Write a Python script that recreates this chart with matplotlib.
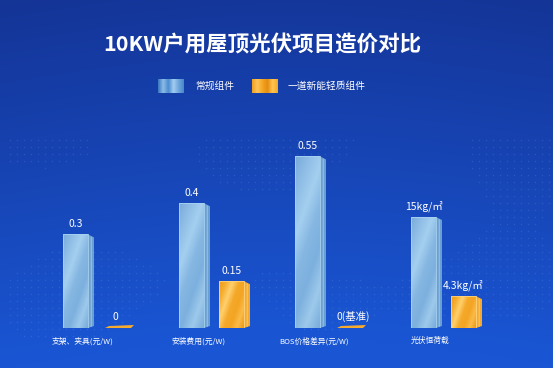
import numpy as np
import matplotlib
matplotlib.use("Agg")
import matplotlib.pyplot as plt
from matplotlib.colors import LinearSegmentedColormap
from matplotlib.patches import Polygon

plt.rcParams['font.family'] = ['Noto Sans CJK SC', 'DejaVu Sans']

# ---------------- data ----------------
title = "10KW户用屋顶光伏项目造价对比"
series_names = ["常规组件", "一道新能轻质组件"]
categories = ["支架、夹具(元/W)", "安装费用(元/W)", "BOS价格差异(元/W)", "光伏恒荷载"]
regular = [0.3, 0.4, 0.55, 15]          # last one in kg/㎡
lightweight = [0, 0.15, 0, 4.3]         # last one in kg/㎡
labels_regular = ["0.3", "0.4", "0.55", "15kg/㎡"]
labels_light = ["0", "0.15", "0(基准)", "4.3kg/㎡"]

# ---------------- layout ----------------
W, H = 553, 368
fig = plt.figure(figsize=(W / 100, H / 100), dpi=100)

# background
bg = fig.add_axes([0, 0, 1, 1])
bg.set_xlim(0, W); bg.set_ylim(H, 0); bg.axis('off')
yy = np.linspace(0, 1, 200)[:, None]
xx = np.linspace(0, 1, 200)[None, :]
top = np.array([20, 52, 150]) / 255
bot = np.array([26, 86, 212]) / 255
t = np.clip(yy * 1.0 + 0.08 * np.sin(xx * 3.0), 0, 1)
grad = top[None, None, :] * (1 - t[..., None]) + bot[None, None, :] * t[..., None]
bg.imshow(grad, extent=[0, W, H, 0], aspect='auto', zorder=0, interpolation='bilinear')
# faint dot texture
gx, gy = np.meshgrid(np.arange(10, W, 7), np.arange(140, 340, 7))
mask = (np.sin(gx / 37.0) + np.cos(gy / 23.0) + np.sin((gx + gy) / 51.0)) > 0.6
bg.scatter(gx[mask], gy[mask], s=1.2, c='#6f9be8', alpha=0.22, linewidths=0, zorder=1)

base_px = 328
unit_px = 116.0
ypx_main = 1 / 312.0
ax = fig.add_axes([0, (H - base_px) / H, 1, 200 / H])
x_left = -75.5 / unit_px
ax.set_xlim(x_left, x_left + W / unit_px)
ax.set_ylim(0, 200 * ypx_main)
ax.axis('off')

ypx_kg = 15 / 111.0
ax2 = fig.add_axes([0, (H - base_px) / H, 1, 200 / H])
ax2.set_xlim(x_left, x_left + W / unit_px)
ax2.set_ylim(0, 200 * ypx_kg)
ax2.axis('off')
ax2.patch.set_alpha(0)

px = 1 / unit_px
w = 25 * px
d = 6 * px
off_orange = 40 * px

cmap_blue = LinearSegmentedColormap.from_list(
    'b', ['#79abd9', '#8fbde6', '#a4cfef', '#86b7e2', '#7db0de', '#9dc9eb', '#7aaddb'])
cmap_orange = LinearSegmentedColormap.from_list(
    'o', ['#f09d1a', '#f6ae30', '#ffd06e', '#f5a92a', '#f3a423', '#fabb48', '#ee9b19'])


def make_grad(hpx, wpx):
    hpx = max(int(hpx), 2)
    X, Y = np.meshgrid(np.arange(wpx), np.arange(hpx))
    v = (X * 1.0 + (hpx - Y) * 0.35) / (wpx + 0.35 * hpx)
    return v


def draw_box(axis, xc, h, ypx, cmap, side_color, edge_color, flat_color):
    x0 = xc - w / 2
    x1 = xc + w / 2
    if h > 0:
        bars = axis.bar([xc], [h], width=w, color='none', edgecolor='none', zorder=3)
        rect = bars.patches[0]
        img = make_grad(h / ypx, 25)
        im = axis.imshow(img, cmap=cmap, extent=[x0, x1, 0, h], aspect='auto',
                         origin='lower', zorder=3, interpolation='bilinear')
        im.set_clip_path(rect)
        axis.bar([xc], [h], width=w, color='none', edgecolor=edge_color, linewidth=0.6, zorder=4)
        side = Polygon([(x1, 0), (x1 + d, 2 * ypx), (x1 + d, h - 3 * ypx), (x1, h)],
                       closed=True, facecolor=side_color, edgecolor='none', zorder=3)
        axis.add_patch(side)
        stripe = Polygon([(x1 + d * 0.45, 1 * ypx), (x1 + d * 0.65, 1.3 * ypx),
                          (x1 + d * 0.65, h - 2.5 * ypx), (x1 + d * 0.45, h - 2 * ypx)],
                         closed=True, facecolor=edge_color, alpha=0.6, edgecolor='none', zorder=3)
        axis.add_patch(stripe)
    else:
        flat = Polygon([(x0, -1 * ypx), (x1 + d * 0.5, 0), (x1 + d, 3 * ypx), (x0 + d, 2 * ypx)],
                       closed=True, facecolor=flat_color, edgecolor='none', zorder=3)
        axis.add_patch(flat)


for i, cat in enumerate(categories):
    axis = ax if i < 3 else ax2
    ypx = ypx_main if i < 3 else ypx_kg
    xb = i
    xo = i + off_orange
    draw_box(axis, xb, regular[i], ypx, cmap_blue, '#6a9fd1', '#a9d2f1', '#8fc0ea')
    draw_box(axis, xo, lightweight[i], ypx, cmap_orange, '#f4aa30', '#ffd27e', '#f5ab2e')
    axis.text(xb, regular[i] + 5 * ypx, labels_regular[i], ha='center', va='bottom',
              color='white', fontsize=7.5, zorder=5)
    axis.text(xo + (0.05 if lightweight[i] == 0 and len(labels_light[i]) > 2 else 0),
              lightweight[i] + (6 if lightweight[i] == 0 else 5) * ypx, labels_light[i],
              ha='center', va='bottom', color='white', fontsize=7.5, zorder=5)
    axis.text(i + 0.06, -13 * ypx, cat, ha='center', va='center', color='white',
              fontsize=5.6, clip_on=False, zorder=5)

# title
fig.text(262.5 / W, 1 - 45 / H, title, ha='center', va='center', color='white',
         fontsize=15.5, fontweight='bold')

# legend
def legend_patch(x, colors):
    lax = fig.add_axes([x / W, 1 - 93 / H, 26 / W, 14 / H])
    cm = LinearSegmentedColormap.from_list('l', colors)
    lax.imshow(np.linspace(0, 1, 52)[None, :], cmap=cm, aspect='auto', interpolation='bilinear')
    lax.axis('off')

legend_patch(158, ['#3a78c0', '#8dbde8', '#4b8bcf', '#a2cdf0', '#6ea6dc', '#4a88cc'])
legend_patch(252, ['#f0a020', '#ffc45a', '#f5a623', '#e58c12', '#ffc552', '#f5a828'])
fig.text(195 / W, 1 - 86 / H, series_names[0], ha='left', va='center', color='white', fontsize=7)
fig.text(288 / W, 1 - 86 / H, series_names[1], ha='left', va='center', color='white', fontsize=7)

fig.savefig("out.png", dpi=100)
